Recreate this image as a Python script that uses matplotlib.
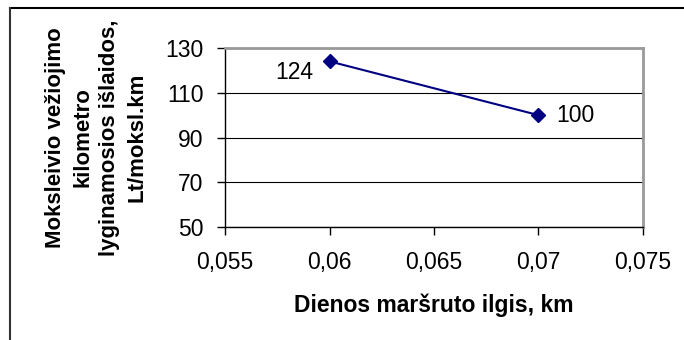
import matplotlib
matplotlib.use("Agg")
import matplotlib.pyplot as plt
from matplotlib.lines import Line2D
from matplotlib.ticker import FuncFormatter

# Data
route_km = [0.06, 0.07]
cost = [124, 100]
point_labels = ["124", "100"]
x_ticks = [0.055, 0.06, 0.065, 0.07, 0.075]
y_ticks = [50, 70, 90, 110, 130]

plt.rcParams["font.family"] = ["Liberation Sans", "DejaVu Sans"]

fig = plt.figure(figsize=(6.84, 3.4), dpi=100)
ax = fig.add_axes([0.329, 0.332, 0.611, 0.527])

ax.plot(route_km, cost, color="#000080", linewidth=1.5, marker="D",
        markersize=7, markerfacecolor="#000080", markeredgecolor="#000080", zorder=3)

# Data labels
ax.annotate(point_labels[0], (route_km[0], cost[0]), xytext=(-12, -8),
            textcoords="offset points", ha="right", va="center", fontsize=16.5)
ax.annotate(point_labels[1], (route_km[1], cost[1]), xytext=(13, 0),
            textcoords="offset points", ha="left", va="center", fontsize=16.5)

ax.set_xlim(0.055, 0.075)
ax.set_ylim(50, 130)
ax.set_xticks(x_ticks)
ax.set_yticks(y_ticks)
ax.xaxis.set_major_formatter(FuncFormatter(lambda v, p: ("%g" % round(v, 4)).replace(".", ",")))
ax.tick_params(axis="both", direction="out", length=5.5, width=1, labelsize=16.5)
ax.tick_params(axis="x", pad=12)
ax.tick_params(axis="y", pad=10)

ax.yaxis.grid(True, color="black", linewidth=0.8)
ax.set_axisbelow(True)

for side in ["top", "right"]:
    ax.spines[side].set_color("#999999")
    ax.spines[side].set_linewidth(2)
for side in ["left", "bottom"]:
    ax.spines[side].set_color("black")
    ax.spines[side].set_linewidth(1)

ax.set_xlabel("Dienos maršruto ilgis, km", fontsize=16.5, fontweight="bold", labelpad=14)
ax.set_ylabel("Moksleivio vežiojimo\nkilometro\nlyginamosios išlaidos,\nLt/moksl.km",
              fontsize=16, fontweight="bold", labelpad=13, linespacing=1.38)

# Outer chart frame (only top and left edges visible)
fig.add_artist(Line2D([10 / 684, 1], [1 - 8 / 340, 1 - 8 / 340], color="black", linewidth=1.5))
fig.add_artist(Line2D([10 / 684, 10 / 684], [0, 1 - 8 / 340], color="#333333", linewidth=1.5))

fig.savefig("out.png", dpi=100)
